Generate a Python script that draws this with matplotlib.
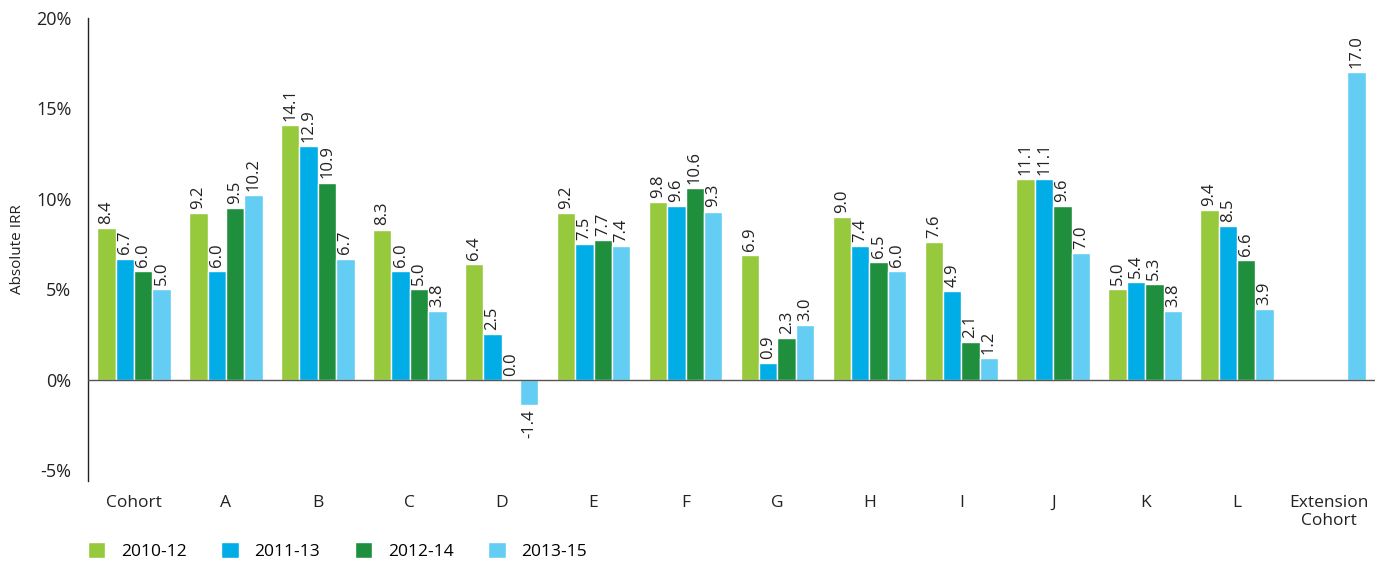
import numpy as np
import matplotlib
matplotlib.use('Agg')
import matplotlib.pyplot as plt

plt.rcParams['font.family'] = ['Open Sans', 'DejaVu Sans']

CATEGORIES = ['Cohort', 'A', 'B', 'C', 'D', 'E', 'F', 'G', 'H', 'I', 'J', 'K', 'L',
              'Extension\nCohort']
SERIES = ['2010-12', '2011-13', '2012-14', '2013-15']
COLORS = ['#97C93D', '#00ADE6', '#1F8E3D', '#63CDF3']

nan = np.nan
irr_2010_12 = [8.4, 9.2, 14.1, 8.3, 6.4, 9.2, 9.8, 6.9, 9.0, 7.6, 11.1, 5.0, 9.4, nan]
irr_2011_13 = [6.7, 6.0, 12.9, 6.0, 2.5, 7.5, 9.6, 0.9, 7.4, 4.9, 11.1, 5.4, 8.5, nan]
irr_2012_14 = [6.0, 9.5, 10.9, 5.0, 0.0, 7.7, 10.6, 2.3, 6.5, 2.1, 9.6, 5.3, 6.6, nan]
irr_2013_15 = [5.0, 10.2, 6.7, 3.8, -1.4, 7.4, 9.3, 3.0, 6.0, 1.2, 7.0, 3.8, 3.9, 17.0]
values = [irr_2010_12, irr_2011_13, irr_2012_14, irr_2013_15]


def main():
    fig = plt.figure(figsize=(13.84, 5.63), dpi=100)
    ax = fig.add_axes([0.0636, 0.1457, 0.9299, 0.8223])

    x = np.arange(len(CATEGORIES))
    width = 0.2
    offsets = [-0.3, -0.1, 0.1, 0.3]

    for name, vals, color, off in zip(SERIES, values, COLORS, offsets):
        vals = np.array(vals, dtype=float)
        ax.bar(x + off, vals, width, color=color, edgecolor='white',
               linewidth=1, label=name, zorder=2)
        for xi, v in zip(x + off, vals):
            if np.isnan(v):
                continue
            if v >= 0:
                ax.annotate(f'{v:.1f}', (xi, v), xytext=(0, 3),
                            textcoords='offset points', rotation=90,
                            ha='center', va='bottom', fontsize=12, color='#222222')
            else:
                ax.annotate(f'{v:.1f}', (xi, v), xytext=(0, -3),
                            textcoords='offset points', rotation=90,
                            ha='center', va='top', fontsize=12, color='#222222')

    ax.axhline(0, color='#555555', linewidth=1, zorder=3)

    ax.set_xlim(-0.5, 13.5)
    ax.set_ylim(-5.6, 20)
    ax.set_yticks([-5, 0, 5, 10, 15, 20])
    ax.set_yticklabels(['-5%', '0%', '5%', '10%', '15%', '20%'])
    ax.set_xticks(x)
    ax.set_xticklabels(CATEGORIES)
    ax.tick_params(axis='y', length=0, pad=12, labelsize=13, colors='#222222')
    ax.tick_params(axis='x', length=0, pad=10, labelsize=12.5, colors='#222222')

    for side in ['top', 'right', 'bottom']:
        ax.spines[side].set_visible(False)
    ax.spines['left'].set_color('#222222')
    ax.spines['left'].set_linewidth(1)

    ax.set_ylabel('Absolute IRR', fontsize=11, color='#222222', labelpad=8)

    ax.legend(loc='center left', bbox_to_anchor=(0.0, -0.152), ncol=4,
              frameon=False, fontsize=12.5, handlelength=1.0, handleheight=1.0,
              handletextpad=0.9, columnspacing=2.0, borderaxespad=0,
              borderpad=0)

    plt.savefig('out.png', dpi=100)


if __name__ == '__main__':
    main()
